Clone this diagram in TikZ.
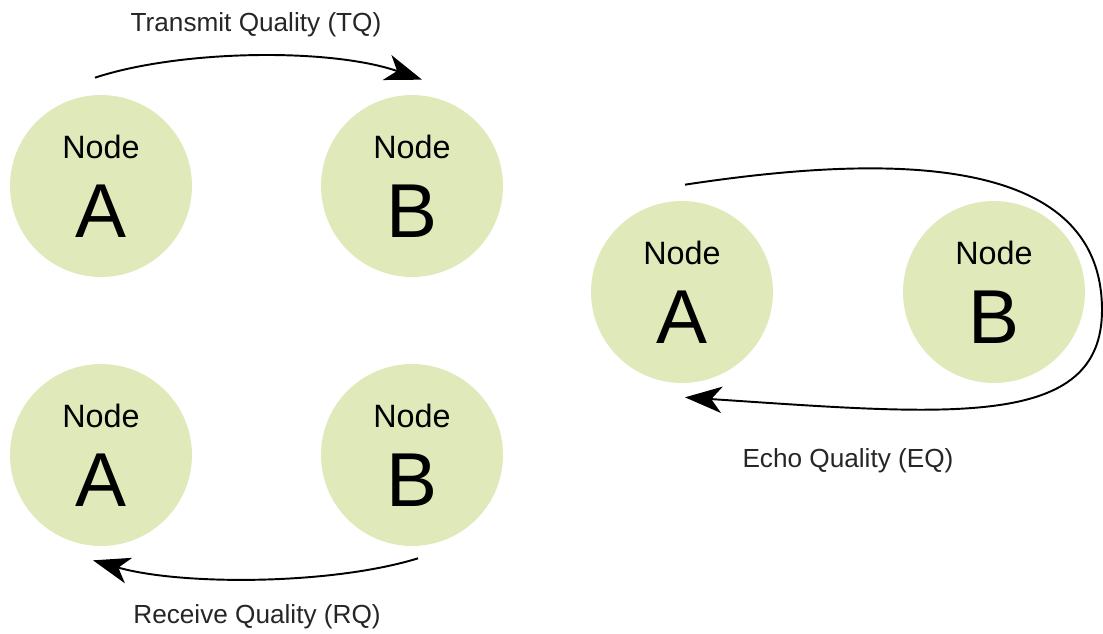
\documentclass[tikz,border=0pt]{standalone}
\usepackage{fontspec}
\setmainfont{Liberation Sans}
\usetikzlibrary{arrows.meta,calc}

\definecolor{nodegreen}{RGB}{224,233,185}

\tikzset{
    peer/.style={circle, fill=nodegreen, draw=none, minimum size=3.64cm, inner sep=0pt},
    peerword/.style={anchor=base, font=\fontsize{18.4}{20}\selectfont},
    peerletter/.style={anchor=base, font=\fontsize{43.5}{46}\selectfont},
    qlabel/.style={font=\fontsize{14.9}{17}\selectfont, text=black!85},
    flow/.style={line width=1.1pt, -{Stealth[length=21pt,width=15pt,inset=6pt]}}
}

\newcommand{\peernode}[3]{%
    \node[peer] (#1) at #2 {};
    \node[peerword] (#1-word) at ($(#1.center)+(0,-28)$) {Node};
    \node[peerletter] (#1-letter) at ($(#1.center)+(0,51)$) {#3};
}

\begin{document}
\begin{tikzpicture}[x=0.02cm, y=-0.02cm]
    \useasboundingbox (0,0) rectangle (1103,633);
    % draw the nodes
    \peernode{ta}{(101,186)}{A}
    \peernode{tb}{(412,186)}{B}
    \peernode{ra}{(101,455)}{A}
    \peernode{rb}{(412,455)}{B}
    \peernode{ea}{(682,292)}{A}
    \peernode{eb}{(994,292)}{B}
    % draw the labels
    \node[qlabel] (tq) at (256,25) {Transmit Quality (TQ)};
    \node[qlabel] (rq) at (257,617) {Receive Quality (RQ)};
    \node[qlabel] (eq) at (848,461) {Echo Quality (EQ)};
    % draw the arrows
    \draw[flow] ($(ta.north)+(-6,-17)$) .. controls +(85,-28) and +(-92,-32) .. ($(tb.north)+(10,-15)$);
    \draw[flow] ($(rb.south)+(6,12)$) .. controls +(-88,27) and +(87,25) .. ($(ra.south)+(-8,14)$);
    \draw[flow] ($(ea.north)+(3,-16)$) .. controls (880,155) and (1102,150) .. (1102,310)
        .. controls (1102,430) and (950,415) .. ($(ea.south)+(3,14)$);
\end{tikzpicture}
\end{document}
